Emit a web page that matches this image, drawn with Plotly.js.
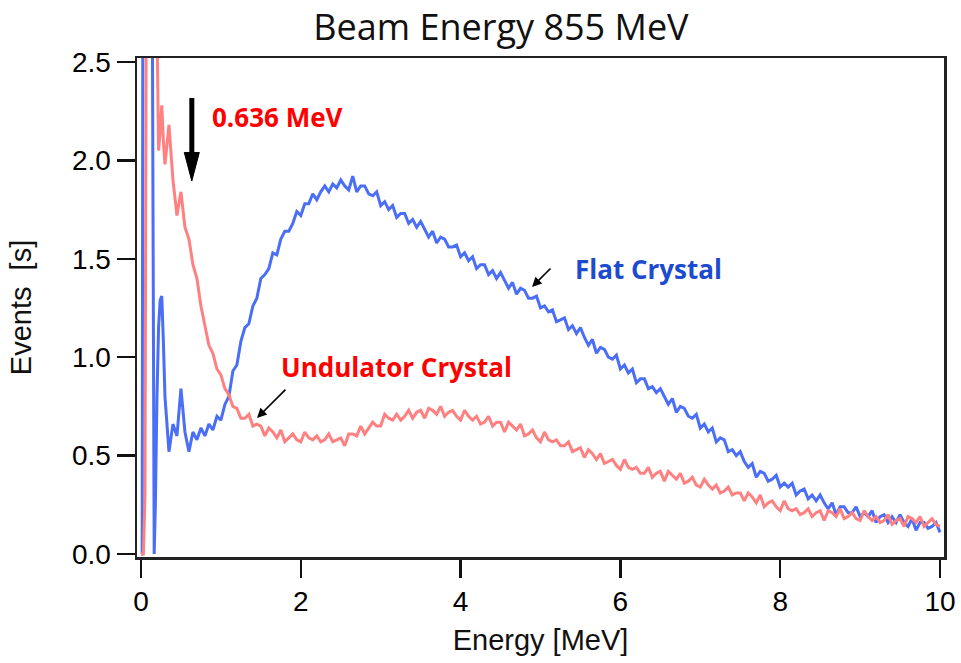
<!DOCTYPE html>
<html>
<head>
<meta charset="utf-8">
<script src="https://cdn.plot.ly/plotly-3.0.1.min.js"></script>
<style>html,body{margin:0;padding:0;background:#fff;}#chart{width:961px;height:663px;}</style>
</head>
<body>
<div id="chart"></div>
<script>
// ---- Data ----
// Low-energy part, explicit energies (MeV)
const flatLowEnergy   = [0, 0.015, 0.025, 0.06, 0.10, 0.14, 0.165, 0.18, 0.20, 0.22, 0.24, 0.26, 0.28];
const flatLowEvents   = [0, 0, 3.5, 3.8, 3.5, 3.0, 0.0, 0.25, 0.80, 1.15, 1.29, 1.31, 1.08];
const undLowEnergy    = [0, 0.03, 0.05, 0.07, 0.12, 0.17, 0.20, 0.22, 0.24, 0.26, 0.28];
const undLowEvents    = [0, 0, 0.3, 3.6, 3.8, 3.4, 2.7, 2.05, 2.15, 2.28, 2.10];

// Main part: energies from 0.30 MeV to 10.00 MeV in 0.05 MeV bins
const gridStart = 0.30;
const gridStep = 0.05;
const flatCrystal = [
  0.80, 0.52, 0.66, 0.60, 0.84, 0.62, 0.52, 0.62, 0.58, 0.64,
  0.60, 0.66, 0.63, 0.70, 0.68, 0.76, 0.80, 0.93, 0.96, 1.08,
  1.15, 1.17, 1.26, 1.30, 1.40, 1.42, 1.45, 1.53, 1.52, 1.60,
  1.64, 1.64, 1.68, 1.74, 1.72, 1.78, 1.78, 1.83, 1.80, 1.84,
  1.87, 1.84, 1.88, 1.86, 1.90, 1.87, 1.85, 1.92, 1.84, 1.87,
  1.87, 1.83, 1.82, 1.84, 1.77, 1.79, 1.75, 1.77, 1.71, 1.73,
  1.73, 1.68, 1.70, 1.66, 1.69, 1.65, 1.61, 1.64, 1.58, 1.61,
  1.60, 1.56, 1.56, 1.57, 1.51, 1.53, 1.49, 1.51, 1.45, 1.47,
  1.47, 1.42, 1.44, 1.40, 1.43, 1.39, 1.35, 1.38, 1.32, 1.35,
  1.34, 1.30, 1.30, 1.31, 1.25, 1.26, 1.23, 1.24, 1.18, 1.19,
  1.20, 1.14, 1.16, 1.12, 1.15, 1.10, 1.06, 1.09, 1.02, 1.05,
  1.04, 1.00, 0.99, 1.01, 0.94, 0.96, 0.92, 0.94, 0.87, 0.89,
  0.89, 0.84, 0.85, 0.82, 0.84, 0.80, 0.76, 0.79, 0.72, 0.75,
  0.74, 0.70, 0.69, 0.71, 0.64, 0.66, 0.62, 0.64, 0.57, 0.59,
  0.58, 0.52, 0.53, 0.50, 0.52, 0.47, 0.44, 0.46, 0.39, 0.42,
  0.41, 0.37, 0.38, 0.40, 0.34, 0.36, 0.34, 0.36, 0.30, 0.32,
  0.33, 0.28, 0.30, 0.27, 0.30, 0.26, 0.23, 0.26, 0.20, 0.24,
  0.24, 0.21, 0.21, 0.24, 0.19, 0.21, 0.19, 0.22, 0.16, 0.19,
  0.20, 0.16, 0.19, 0.16, 0.20, 0.16, 0.14, 0.18, 0.12, 0.16,
  0.16, 0.13, 0.14, 0.16, 0.11
];
const undulatorCrystal = [
  1.98, 2.18, 1.90, 1.72, 1.84, 1.66, 1.60, 1.47, 1.40, 1.26,
  1.16, 1.06, 1.02, 0.94, 0.91, 0.84, 0.81, 0.75, 0.74, 0.69,
  0.69, 0.71, 0.65, 0.66, 0.65, 0.60, 0.64, 0.62, 0.59, 0.63,
  0.57, 0.59, 0.61, 0.58, 0.57, 0.62, 0.59, 0.58, 0.60, 0.57,
  0.58, 0.61, 0.57, 0.58, 0.59, 0.55, 0.61, 0.61, 0.60, 0.65,
  0.61, 0.64, 0.67, 0.65, 0.65, 0.71, 0.69, 0.68, 0.71, 0.68,
  0.70, 0.73, 0.69, 0.72, 0.73, 0.69, 0.74, 0.73, 0.71, 0.75,
  0.70, 0.72, 0.73, 0.70, 0.68, 0.73, 0.70, 0.68, 0.70, 0.66,
  0.67, 0.70, 0.65, 0.67, 0.67, 0.62, 0.67, 0.65, 0.63, 0.66,
  0.60, 0.61, 0.63, 0.59, 0.57, 0.62, 0.58, 0.57, 0.58, 0.55,
  0.55, 0.57, 0.52, 0.53, 0.54, 0.49, 0.53, 0.51, 0.48, 0.51,
  0.46, 0.47, 0.48, 0.45, 0.43, 0.48, 0.44, 0.43, 0.44, 0.41,
  0.41, 0.44, 0.39, 0.41, 0.42, 0.37, 0.42, 0.40, 0.38, 0.41,
  0.36, 0.37, 0.39, 0.35, 0.34, 0.38, 0.35, 0.33, 0.35, 0.31,
  0.32, 0.34, 0.30, 0.31, 0.31, 0.27, 0.31, 0.29, 0.26, 0.30,
  0.24, 0.26, 0.27, 0.24, 0.22, 0.27, 0.23, 0.22, 0.23, 0.20,
  0.21, 0.23, 0.19, 0.21, 0.22, 0.17, 0.22, 0.21, 0.19, 0.23,
  0.18, 0.19, 0.21, 0.18, 0.17, 0.22, 0.19, 0.17, 0.19, 0.16,
  0.17, 0.20, 0.15, 0.17, 0.18, 0.14, 0.19, 0.18, 0.16, 0.19,
  0.14, 0.16, 0.18, 0.15, 0.14
];
const xTicks = [0, 2, 4, 6, 8, 10];
const yTicks = [0, 0.5, 1.0, 1.5, 2.0, 2.5];
const markedEnergy = 0.636;   // MeV, the marked line

// ---- Build traces ----
const grid = n => Array.from({length: n}, (_, i) => +(gridStart + i * gridStep).toFixed(2));
const flatX = flatLowEnergy.concat(grid(flatCrystal.length));
const flatY = flatLowEvents.concat(flatCrystal);
const undX = undLowEnergy.concat(grid(undulatorCrystal.length));
const undY = undLowEvents.concat(undulatorCrystal);

const BLUE = '#4a6ef6', RED = '#ff8080';
const traces = [
  {x: flatX, y: flatY, type: 'scatter', mode: 'lines', name: 'Flat Crystal',
   line: {color: BLUE, width: 3}},
  {x: undX, y: undY, type: 'scatter', mode: 'lines', name: 'Undulator Crystal',
   line: {color: RED, width: 3}}
];

const axisFont = {family: 'Liberation Sans, Arial, sans-serif', size: 28, color: '#000'};
const annFont = 'Open Sans, sans-serif';

// big arrow geometry (data units)
const arrowTop = 2.317, arrowHeadBase = 2.04, arrowTip = 1.895, arrowHalf = 0.094;

const layout = {
  width: 961, height: 663,
  margin: {l: 137, r: 17, t: 58, b: 106},
  paper_bgcolor: '#fff', plot_bgcolor: '#fff',
  showlegend: false,
  title: {text: 'Beam Energy 855 MeV', font: {family: annFont, size: 36, color: '#111'},
          xref: 'container', x: 0.5213, xanchor: 'center', yref: 'container', y: 0.958, yanchor: 'middle'},
  xaxis: {range: [-0.05, 10.05], tickvals: xTicks, ticks: 'outside', ticklen: 18, tickwidth: 2.5,
          tickcolor: '#111', showline: true, mirror: true, linecolor: '#222', linewidth: 2.5,
          showgrid: false, zeroline: false, tickfont: axisFont,
          title: {text: 'Energy [MeV]', font: {family: axisFont.family, size: 29, color: '#111'}, standoff: 14}},
  yaxis: {range: [-0.0152, 2.52], tickvals: yTicks, tickformat: '.1f', ticks: 'outside', ticklen: 18, tickwidth: 2.5,
          tickcolor: '#111', showline: true, mirror: true, linecolor: '#222', linewidth: 2.5,
          showgrid: false, zeroline: false, tickfont: axisFont,
          title: {text: 'Events\u00a0\u00a0[s]', font: {family: axisFont.family, size: 29, color: '#111'}, standoff: 32}},
  shapes: [
    {type: 'line', xref: 'x', yref: 'y', x0: markedEnergy, x1: markedEnergy, y0: arrowTop, y1: arrowHeadBase - 0.01,
     line: {color: '#000', width: 5}},
    {type: 'path', xref: 'x', yref: 'y',
     path: `M ${markedEnergy} ${arrowTip} L ${markedEnergy - arrowHalf} ${arrowHeadBase} L ${markedEnergy + arrowHalf} ${arrowHeadBase} Z`,
     fillcolor: '#000', line: {color: '#000', width: 1}}
  ],
  annotations: [
    {text: '<b>0.636 MeV</b>', x: 0.864, y: 2.22, xref: 'x', yref: 'y', xanchor: 'left', yanchor: 'middle',
     showarrow: false, font: {family: annFont, size: 26, color: '#ff0000'}},
    {text: '<b>Flat Crystal</b>', x: 5.407, y: 1.45, xref: 'x', yref: 'y', xanchor: 'left', yanchor: 'middle',
     showarrow: false, font: {family: annFont, size: 26, color: '#1d4bd0'}},
    {text: '<b>Undulator Crystal</b>', x: 1.727, y: 0.95, xref: 'x', yref: 'y', xanchor: 'left', yanchor: 'middle',
     showarrow: false, font: {family: annFont, size: 26, color: '#ff0000'}},
    {text: '', x: 4.894, y: 1.357, ax: 5.144, ay: 1.458, xref: 'x', yref: 'y', axref: 'x', ayref: 'y',
     showarrow: true, arrowhead: 2, arrowsize: 1.2, arrowwidth: 1.6, arrowcolor: '#000', standoff: 0},
    {text: '', x: 1.452, y: 0.691, ax: 1.827, ay: 0.843, xref: 'x', yref: 'y', axref: 'x', ayref: 'y',
     showarrow: true, arrowhead: 2, arrowsize: 1.2, arrowwidth: 1.6, arrowcolor: '#000', standoff: 0}
  ]
};

Plotly.newPlot('chart', traces, layout, {staticPlot: true, displayModeBar: false});
</script>
</body>
</html>
